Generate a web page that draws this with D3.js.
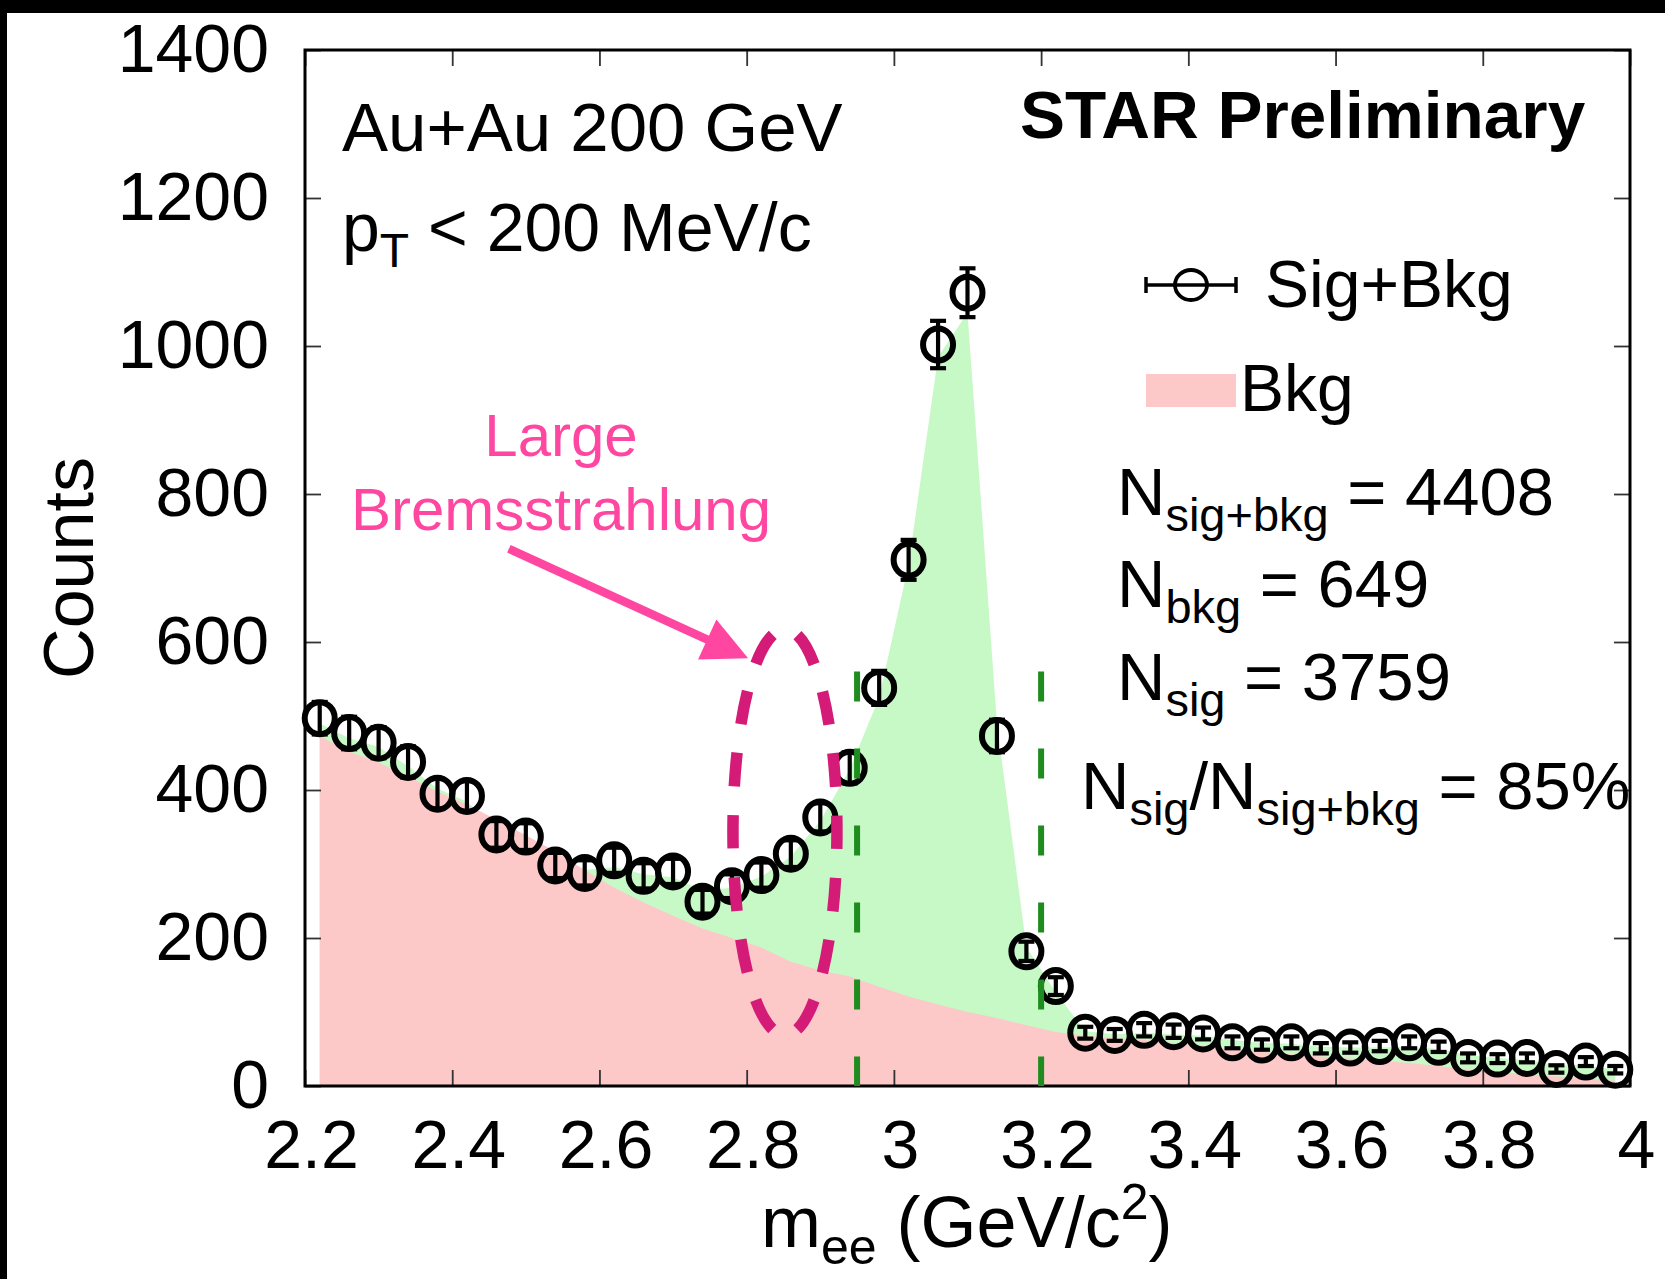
<!DOCTYPE html>
<html><head><meta charset="utf-8">
<script src="https://cdn.jsdelivr.net/npm/d3@7"></script>
<style>
body{margin:0;background:#fff}
svg{display:block}
text{font-family:"Liberation Sans",Arial,Helvetica,sans-serif}
</style>
</head><body>
<svg id="c" width="1665" height="1279"></svg>
<script>
// ---- data ----
const mass = [2.22,2.26,2.30,2.34,2.38,2.42,2.46,2.50,2.54,2.58,2.62,2.66,2.70,2.74,2.78,2.82,2.86,2.90,2.94,2.98,3.02,3.06,3.10,3.14,3.18,3.22,3.26,3.30,3.34,3.38,3.42,3.46,3.50,3.54,3.58,3.62,3.66,3.70,3.74,3.78,3.82,3.86,3.90,3.94,3.98];
const sigBkg = [497,477,464,438,395,392,340,337,298,288,305,284,290,249,270,285,314,363,430,538,711,1002,1072,473,182,135,72,69,76,74,71,59,56,59,51,52,54,59,53,38,37,38,23,33,22];
const sigBkgErr = [22,22,21,21,20,20,18,18,17,17,17,17,17,16,16,17,18,19,21,23,27,32,33,22,13,12,8,8,9,9,8,8,7,8,7,7,7,8,7,6,6,6,5,6,5];
const sigBkgShape = [490,470,458,432,402,384,348,333,305,292,296,286,282,264,268,283,310,358,428,525,705,985,1045,490,188,126,74,70,72,70,68,62,58,57,53,52,52,53,50,42,38,35,28,28,22];
const bkgShape = [473,452,437,418,398,380,360,339,317,292,268,248,230,213,200,187,168,156,148,134,121,110,100,92,82,73,68,65,62,58,54,50,46,43,40,37,34,31,27,22,19,16,13,10,7];
const xTickValues = [2.2,2.4,2.6,2.8,3.0,3.2,3.4,3.6,3.8,4.0];
const xTickLabels = ["2.2","2.4","2.6","2.8","3","3.2","3.4","3.6","3.8","4"];
const yTickValues = [0,200,400,600,800,1000,1200,1400];
const yTickLabels = ["0","200","400","600","800","1000","1200","1400"];
const windowEdges = [2.95, 3.2];
const windowTop = 560;
const bremsMarker = {mass: 2.852, counts: 343};
const arrowFrom = {mass: 2.477, counts: 726};
const arrowTo = {mass: 2.802, counts: 578};

// ---- layout ----
const W = 1665, H = 1279;
const L = 305, R = 1630, T = 50, B = 1086;
const svg = d3.select("#c");
const x = d3.scaleLinear().domain([2.2, 4.0]).range([L, R]);
const y = d3.scaleLinear().domain([0, 1400]).range([B, T]);
const FONT = '"Liberation Sans",Arial,Helvetica,sans-serif';

svg.append("rect").attr("width", W).attr("height", H).attr("fill", "#fff");
svg.append("rect").attr("x", 0).attr("y", 0).attr("width", W).attr("height", 13).attr("fill", "#000");
svg.append("rect").attr("x", 0).attr("y", 0).attr("width", 7).attr("height", H).attr("fill", "#000");

// areas
const area = d3.area().x((d, i) => x(mass[i])).y0(y(0)).y1(d => y(d));
svg.append("path").datum(sigBkgShape).attr("d", area).attr("fill", "#c6f9c6");
svg.append("path").datum(bkgShape).attr("d", area).attr("fill", "#fcc8c8");

// axes (inward ticks)
function styleAxis(g) {
  g.attr("font-family", FONT).attr("font-size", 68);
  g.select(".domain").remove();
  g.selectAll(".tick line").attr("stroke", "#333").attr("stroke-width", 1.8);
  g.selectAll(".tick text").attr("fill", "#000");
}
const gxb = svg.append("g").attr("transform", `translate(0,${B})`)
  .call(d3.axisBottom(x).tickValues(xTickValues).tickSize(-16).tickPadding(34)
    .tickFormat(d => xTickLabels[xTickValues.indexOf(d)]))
  .call(styleAxis);
gxb.selectAll(".tick text").attr("dx", 6);
svg.append("g").attr("transform", `translate(0,${T})`)
  .call(d3.axisTop(x).tickValues(xTickValues).tickSize(-16).tickFormat(""))
  .call(styleAxis);
svg.append("g").attr("transform", `translate(${L},0)`)
  .call(d3.axisLeft(y).tickValues(yTickValues).tickSize(-16).tickPadding(36)
    .tickFormat(d => yTickLabels[yTickValues.indexOf(d)]))
  .call(styleAxis);
svg.append("g").attr("transform", `translate(${R},0)`)
  .call(d3.axisRight(y).tickValues(yTickValues).tickSize(-16).tickFormat(""))
  .call(styleAxis);

// frame
svg.append("rect").attr("x", L).attr("y", T).attr("width", R - L).attr("height", B - T)
  .attr("fill", "none").attr("stroke", "#000").attr("stroke-width", 3);

// data points with error bars
const pts = svg.append("g").attr("stroke", "#000").attr("fill", "none");
mass.forEach((m, i) => {
  const cx = x(m), v = sigBkg[i], e = sigBkgErr[i];
  const y1 = y(v - e), y2 = y(v + e);
  pts.append("line").attr("x1", cx).attr("x2", cx).attr("y1", y1).attr("y2", y2).attr("stroke-width", 4.2);
  pts.append("line").attr("x1", cx - 8).attr("x2", cx + 8).attr("y1", y1).attr("y2", y1).attr("stroke-width", 4.2);
  pts.append("line").attr("x1", cx - 8).attr("x2", cx + 8).attr("y1", y2).attr("y2", y2).attr("stroke-width", 4.2);
  pts.append("ellipse").attr("cx", cx).attr("cy", y(v)).attr("rx", 15).attr("ry", 16).attr("stroke-width", 6);
});

// mass window dashed lines
windowEdges.forEach(m => {
  svg.append("line").attr("x1", x(m)).attr("x2", x(m)).attr("y1", y(windowTop)).attr("y2", y(0))
    .attr("stroke", "#1e8c1e").attr("stroke-width", 6).attr("stroke-dasharray", "30,47");
});

// Bremsstrahlung dashed ellipse
{
  const cx = x(bremsMarker.mass), cy = y(bremsMarker.counts), rx = 52, ry = 203;
  const p = svg.append("path")
    .attr("d", `M${cx},${cy - ry} A${rx},${ry} 0 1 1 ${cx},${cy + ry} A${rx},${ry} 0 1 1 ${cx},${cy - ry}`)
    .attr("fill", "none").attr("stroke", "#d31b77").attr("stroke-width", 11.5);
  const len = p.node().getTotalLength();
  const per = len / 14, d = per * 0.54, g = per - d;
  p.attr("stroke-dasharray", `${d},${g}`).attr("stroke-dashoffset", d + g / 2);
}

// arrow
{
  const x0 = x(arrowFrom.mass), y0 = y(arrowFrom.counts), x1 = x(arrowTo.mass), y1 = y(arrowTo.counts);
  const dx = x1 - x0, dy = y1 - y0, len = Math.hypot(dx, dy), ux = dx / len, uy = dy / len;
  const hl = 45, hw = 22;
  const bx = x1 - ux * hl, by = y1 - uy * hl;
  svg.append("line").attr("x1", x0).attr("y1", y0).attr("x2", bx + ux * 2).attr("y2", by + uy * 2)
    .attr("stroke", "#ff46a0").attr("stroke-width", 8.5);
  svg.append("polygon").attr("points", `${x1},${y1} ${bx - uy * hw},${by + ux * hw} ${bx + uy * hw},${by - ux * hw}`)
    .attr("fill", "#ff46a0");
}

// texts
function txt(xp, yp, size, opts = {}) {
  const t = svg.append("text").attr("x", xp).attr("y", yp).attr("font-size", size).attr("fill", opts.fill || "#000");
  if (opts.anchor) t.attr("text-anchor", opts.anchor);
  if (opts.weight) t.attr("font-weight", opts.weight);
  return t;
}
function parts(t, list) {
  list.forEach(([s, size, dy]) => {
    const sp = t.append("tspan").text(s).attr("font-size", size);
    if (dy) sp.attr("dy", dy);
  });
}
txt(342, 151, 69).text("Au+Au 200 GeV");
parts(txt(342, 251, 68), [["p", 68], ["T", 48, 16], [" < 200 MeV/c", 68, -16]]);
txt(1020, 138, 67.5, {weight: "bold"}).text("STAR Preliminary");

// legend
svg.append("line").attr("x1", 1146).attr("x2", 1236).attr("y1", 285).attr("y2", 285).attr("stroke", "#000").attr("stroke-width", 3.5);
svg.append("line").attr("x1", 1146).attr("x2", 1146).attr("y1", 277).attr("y2", 293).attr("stroke", "#000").attr("stroke-width", 3.5);
svg.append("line").attr("x1", 1236).attr("x2", 1236).attr("y1", 277).attr("y2", 293).attr("stroke", "#000").attr("stroke-width", 3.5);
svg.append("ellipse").attr("cx", 1191).attr("cy", 285).attr("rx", 16).attr("ry", 15).attr("fill", "none").attr("stroke", "#000").attr("stroke-width", 3.8);
txt(1265, 307, 66).text("Sig+Bkg");
svg.append("rect").attr("x", 1146).attr("y", 374).attr("width", 90).attr("height", 33).attr("fill", "#fcc8c8");
txt(1240, 411, 66).text("Bkg");

parts(txt(1117, 515, 67), [["N", 67], ["sig+bkg", 47, 16], [" = 4408", 67, -16]]);
parts(txt(1117, 607, 67), [["N", 67], ["bkg", 47, 16], [" = 649", 67, -16]]);
parts(txt(1117, 700, 67), [["N", 67], ["sig", 47, 16], [" = 3759", 67, -16]]);
parts(txt(1081, 809, 67), [["N", 67], ["sig", 47, 16], ["/N", 67, -16], ["sig+bkg", 47, 16], [" = 85%", 67, -16]]);

txt(561, 456, 60, {anchor: "middle", fill: "#ff46a0"}).text("Large");
txt(561, 530, 60, {anchor: "middle", fill: "#ff46a0"}).text("Bremsstrahlung");

// axis titles
svg.append("text").attr("transform", "translate(93,568) rotate(-90)").attr("text-anchor", "middle")
  .attr("font-size", 70).attr("fill", "#000").text("Counts");
parts(txt(761, 1247, 72), [["m", 72], ["ee", 50, 17], [" (GeV/c", 72, -17], ["2", 50, -28], [")", 72, 28]]);
</script>
</body></html>
